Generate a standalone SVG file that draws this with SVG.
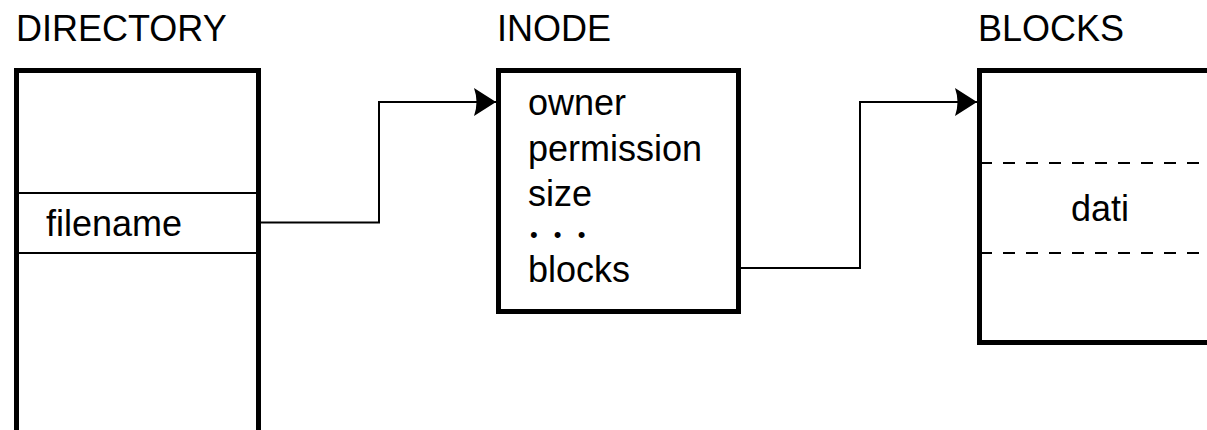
<svg xmlns="http://www.w3.org/2000/svg" width="1207" height="430" viewBox="0 0 1207 430">
  <style>
    .t { font-family: "Liberation Sans", Arial, sans-serif; font-size: 36px; fill: #000; }
    .dots { font-family: "Liberation Sans", Arial, sans-serif; font-size: 22px; fill: #000; letter-spacing: 5px; }
    .box { fill: #fff; stroke: #000; stroke-width: 5; }
    .div { stroke: #000; stroke-width: 2; fill: none; }
    .dash { stroke: #000; stroke-width: 2; stroke-dasharray: 12 11; fill: none; }
    .conn { stroke: #000; stroke-width: 2; fill: none; }
  </style>
  <defs>
    <marker id="arrow" markerUnits="userSpaceOnUse" markerWidth="24" markerHeight="30" refX="22" refY="15" orient="auto">
      <path d="M0,1 L22,15 L0,29 Q5,15 0,1 Z" fill="#000"/>
    </marker>
  </defs>
  <rect width="1207" height="430" fill="#fff"/>

  <g id="directory">
    <text class="t" x="16" y="41">DIRECTORY</text>
    <rect class="box" x="16.5" y="70.5" width="242" height="380"/>
    <line class="div" x1="19" y1="193" x2="256" y2="193"/>
    <line class="div" x1="19" y1="253" x2="256" y2="253"/>
    <text class="t" x="46" y="236">filename</text>
  </g>

  <g id="inode">
    <text class="t" x="497" y="41">INODE</text>
    <rect class="box" x="498.5" y="70.5" width="240" height="241"/>
    <text class="t" x="528" y="115">owner</text>
    <text class="t" x="528" y="160.5">permission</text>
    <text class="t" x="528" y="206">size</text>
    <text class="dots" x="530" y="241.5">• • •</text>
    <text class="t" x="528" y="282">blocks</text>
  </g>

  <g id="blocks">
    <text class="t" x="978" y="41">BLOCKS</text>
    <rect class="box" x="979.5" y="70.5" width="300" height="272"/>
    <line class="dash" x1="980" y1="163" x2="1207" y2="163"/>
    <line class="dash" x1="980" y1="253" x2="1207" y2="253"/>
    <text class="t" x="1071" y="221">dati</text>
  </g>

  <g id="connectors">
    <path class="conn" d="M261,222.5 H379 V102 H496" marker-end="url(#arrow)"/>
    <path class="conn" d="M741,268 H860 V102 H977" marker-end="url(#arrow)"/>
  </g>
</svg>
